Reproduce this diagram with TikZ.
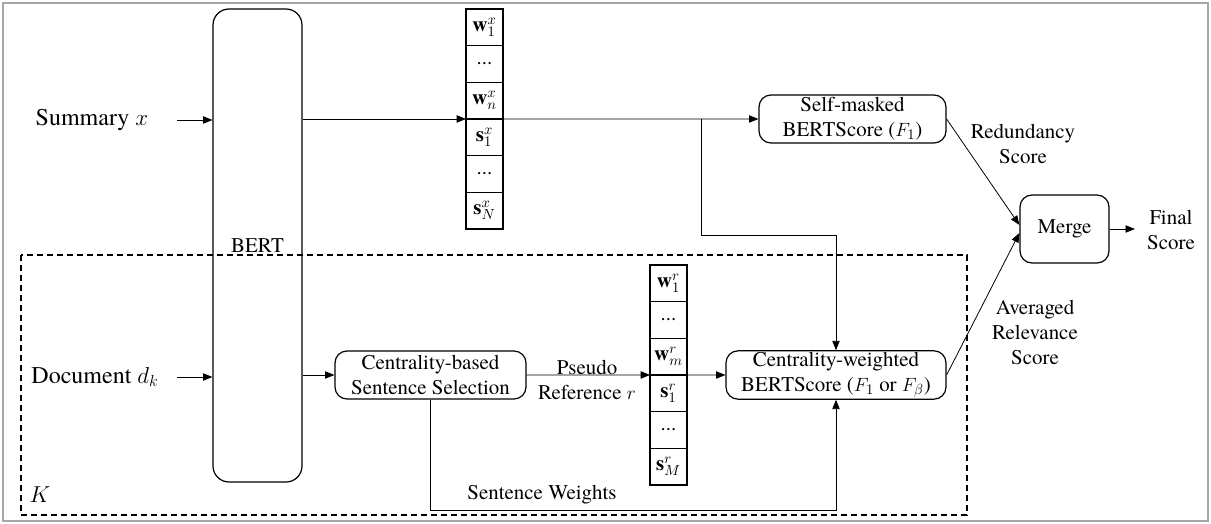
\documentclass[tikz,border=0pt]{standalone}
\usepackage{fontspec}
\setmainfont{TeX Gyre Termes}
\usetikzlibrary{positioning,arrows.meta}

\begin{document}
\begin{tikzpicture}[x=0.75pt,y=-0.75pt,
	font=\fontsize{15.7}{18.75}\selectfont,
	>={Triangle[length=7pt,width=5.5pt]},
	block/.style={draw,rounded corners=9pt,line width=0.9pt,align=center,inner sep=1pt},
	cell/.style={draw,line width=0.9pt,minimum width=\cellW,minimum height=\cellH,inner sep=0pt,outer sep=0pt},
	link/.style={->,line width=0.6pt},
	plain/.style={align=center,inner sep=0pt},
	biglabel/.style={plain,font=\fontsize{18}{21}\selectfont}]

\def\cellW{27.75pt}
\def\cellH{27.5pt}
\def\clrframe{gray!70}

\newcommand{\embcol}[6]{%
	% embedding column
	\node[cell] (#1-1) at (#2,#3) {$\mathbf{w}_1^{#4}$};
	\node[cell,below=0pt of #1-1] (#1-2) {...};
	\node[cell,below=0pt of #1-2] (#1-3) {$\mathbf{w}_{#5}^{#4}$};
	\node[cell,below=0pt of #1-3] (#1-4) {$\mathbf{s}_1^{#4}$};
	\node[cell,below=0pt of #1-4] (#1-5) {...};
	\node[cell,below=0pt of #1-5] (#1-6) {$\mathbf{s}_{#6}^{#4}$};
}

\useasboundingbox (0,0) rectangle (1211,524);
\draw [\clrframe,line width=1pt] (3,3) rectangle (1208,521);

% inputs
\node[biglabel] (summary) at (92,120) {Summary $x$};
\node[biglabel] (document) at (95,377) {Document $d_k$};
\coordinate (sumin) at (177,120);
\coordinate (docin) at (177,377);

\node[block,rounded corners=12pt,minimum width=66.75pt,minimum height=354.75pt] (bert) at (257.5,245.5) {BERT};

\draw [link] (sumin) -- (sumin -| bert.west);
\draw [link] (docin) -- (docin -| bert.west);

% summary embeddings
\embcol{xv}{484.5}{27.3}{x}{n}{N}

\node[block,minimum width=140.25pt,minimum height=36pt] (selfmask) at (852.5,119) {Self-masked\\BERTScore ($F_1$)};
\node[block,minimum width=66.75pt,minimum height=51pt] (merge) at (1064.5,229) {Merge};
\node[plain] (final) at (1171,230) {Final\\Score};

\draw [link] (bert.east |- xv-3.south west) -- (xv-3.south west);
\draw [link] (xv-3.south east) -- (selfmask.west);

% document branch
\node[block,minimum width=143.25pt,minimum height=36pt] (centsel) at (430.5,375) {Centrality-based\\Sentence Selection};
\node[plain] (pseudo) at (587,380) {Pseudo\\Reference $r$};
\embcol{rv}{668.5}{283.3}{r}{m}{M}
\node[block,minimum width=165pt,minimum height=36pt] (centw) at (836,375) {Centrality-weighted\\BERTScore ($F_1$ or $F_\beta$)};

\draw [link] (bert.east |- centsel.west) -- (centsel.west);
\draw [link] (centsel.east) -- (rv-3.south west);
\draw [link] (rv-3.south east) -- (centw.west);
\draw [link] (centsel.south) -- ++(0,111) -| (centw.south);
\node[plain] (sentw) at (542,495) {Sentence Weights};

\coordinate (xsplit) at (701,119);
\draw [link] (xsplit) -- ++(0,116) -| (centw.north);

% scores
\draw [link] (selfmask.east) -- ([yshift=3pt]merge.west);
\draw [link] (centw.east) -- ([yshift=-3pt]merge.west);
\draw [link,shorten >=9pt] (merge.east) -- (merge.east -| final.west);
\node[plain] (redund) at (1023,144) {Redundancy\\Score};
\node[plain] (avgrel) at (1035,332) {Averaged\\Relevance\\Score};

% K documents
\draw [line width=0.9pt,dash pattern=on 4.5pt off 3pt] (21,255) rectangle (967,515);
\node[biglabel] (kdocs) at (40,495) {$K$};

\end{tikzpicture}
\end{document}
